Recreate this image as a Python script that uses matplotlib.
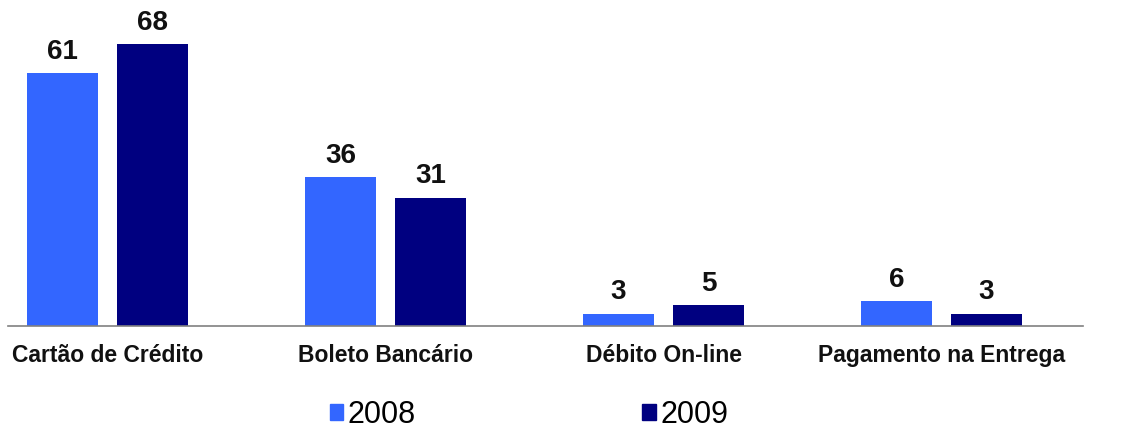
import numpy as np
import matplotlib.pyplot as plt
from matplotlib.patches import Patch

categories = ['Cartão de Crédito', 'Boleto Bancário', 'Débito On-line', 'Pagamento na Entrega']
years = ['2008', '2009']
values_2008 = [61, 36, 3, 6]
values_2009 = [68, 31, 5, 3]
colors = ['#3366FF', '#000080']

fig = plt.figure(figsize=(11.33, 4.41), dpi=100)
ax = fig.add_axes([8 / 1133, 115 / 441, 1075 / 1133, 326 / 441])

x = np.arange(len(categories))
w = 0.255
off = 0.162
b1 = ax.bar(x - off, values_2008, w, color=colors[0])
b2 = ax.bar(x + off, values_2009, w, color=colors[1])

for bars in (b1, b2):
    for rect in bars:
        ax.annotate(str(int(rect.get_height())),
                    (rect.get_x() + rect.get_width() / 2, rect.get_height()),
                    xytext=(0, 6), textcoords='offset points',
                    ha='center', va='bottom', fontsize=20, fontweight='bold',
                    family=['Liberation Sans', 'DejaVu Sans'], color='#111111')

ax.set_xlim(-0.358, 3.509)
ax.set_ylim(0, 78.7)
for s in ['top', 'right', 'left']:
    ax.spines[s].set_visible(False)
ax.spines['bottom'].set_color('#808080')
ax.spines['bottom'].set_linewidth(1.2)
ax.set_yticks([])
ax.set_xticks(x)
ax.set_xticklabels(categories, fontsize=16.5, fontweight='bold',
                   family=['Liberation Sans', 'DejaVu Sans'], color='#111111')
ax.tick_params(axis='x', length=0, pad=13)

handles = [Patch(color=c) for c in colors]
fig.legend(handles, years, loc='center', bbox_to_anchor=(0.467, 0.059), ncol=2,
           frameon=False, handlelength=0.45, handleheight=0.45, handletextpad=0.15,
           columnspacing=7.4, prop={'family': ['Liberation Sans', 'DejaVu Sans'], 'size': 22})

fig.savefig('out.png', dpi=100)
